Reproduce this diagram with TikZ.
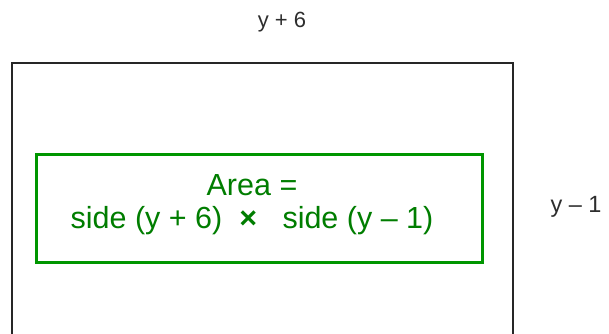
\documentclass[tikz,border=0pt]{standalone}
\usepackage{fontspec}
\setmainfont{Liberation Sans}
\usetikzlibrary{positioning}
\definecolor{boxgreen}{RGB}{0,150,0}
\definecolor{textgreen}{RGB}{0,125,0}
\definecolor{labgrey}{RGB}{45,45,45}
\tikzset{
  lotbox/.style={draw=black!85,line width=1.4pt,minimum width=501pt,minimum height=300pt,inner sep=0pt},
  areabox/.style={draw=boxgreen,line width=3pt,minimum width=446pt,minimum height=108pt},
  formula/.style={text=textgreen,align=center,font=\fontsize{30.5}{33}\selectfont},
  lab/.style={text=labgrey,font=\fontsize{22}{26}\selectfont,inner sep=0pt}
}
\begin{document}
\begin{tikzpicture}[x=1pt,y=-1pt]
  \useasboundingbox (0,0) rectangle (609,333);
  \clip (0,0) rectangle (609,333);
  % plot of land
  \node[lotbox] (lot) at (262.5,213) {};
  % area formula
  \node[areabox] (area) at (259,208) {};
  \node[formula] (rule) at (252,205) {Area =\\side (y + 6)\ \ \textbf{×}\ \ \ side (y – 1)};
  % side labels
  \node[lab] (top) at (282,22) {y + 6};
  \node[lab,font=\fontsize{23.5}{26}\selectfont] (right) at (576,207) {y – 1};
\end{tikzpicture}
\end{document}
